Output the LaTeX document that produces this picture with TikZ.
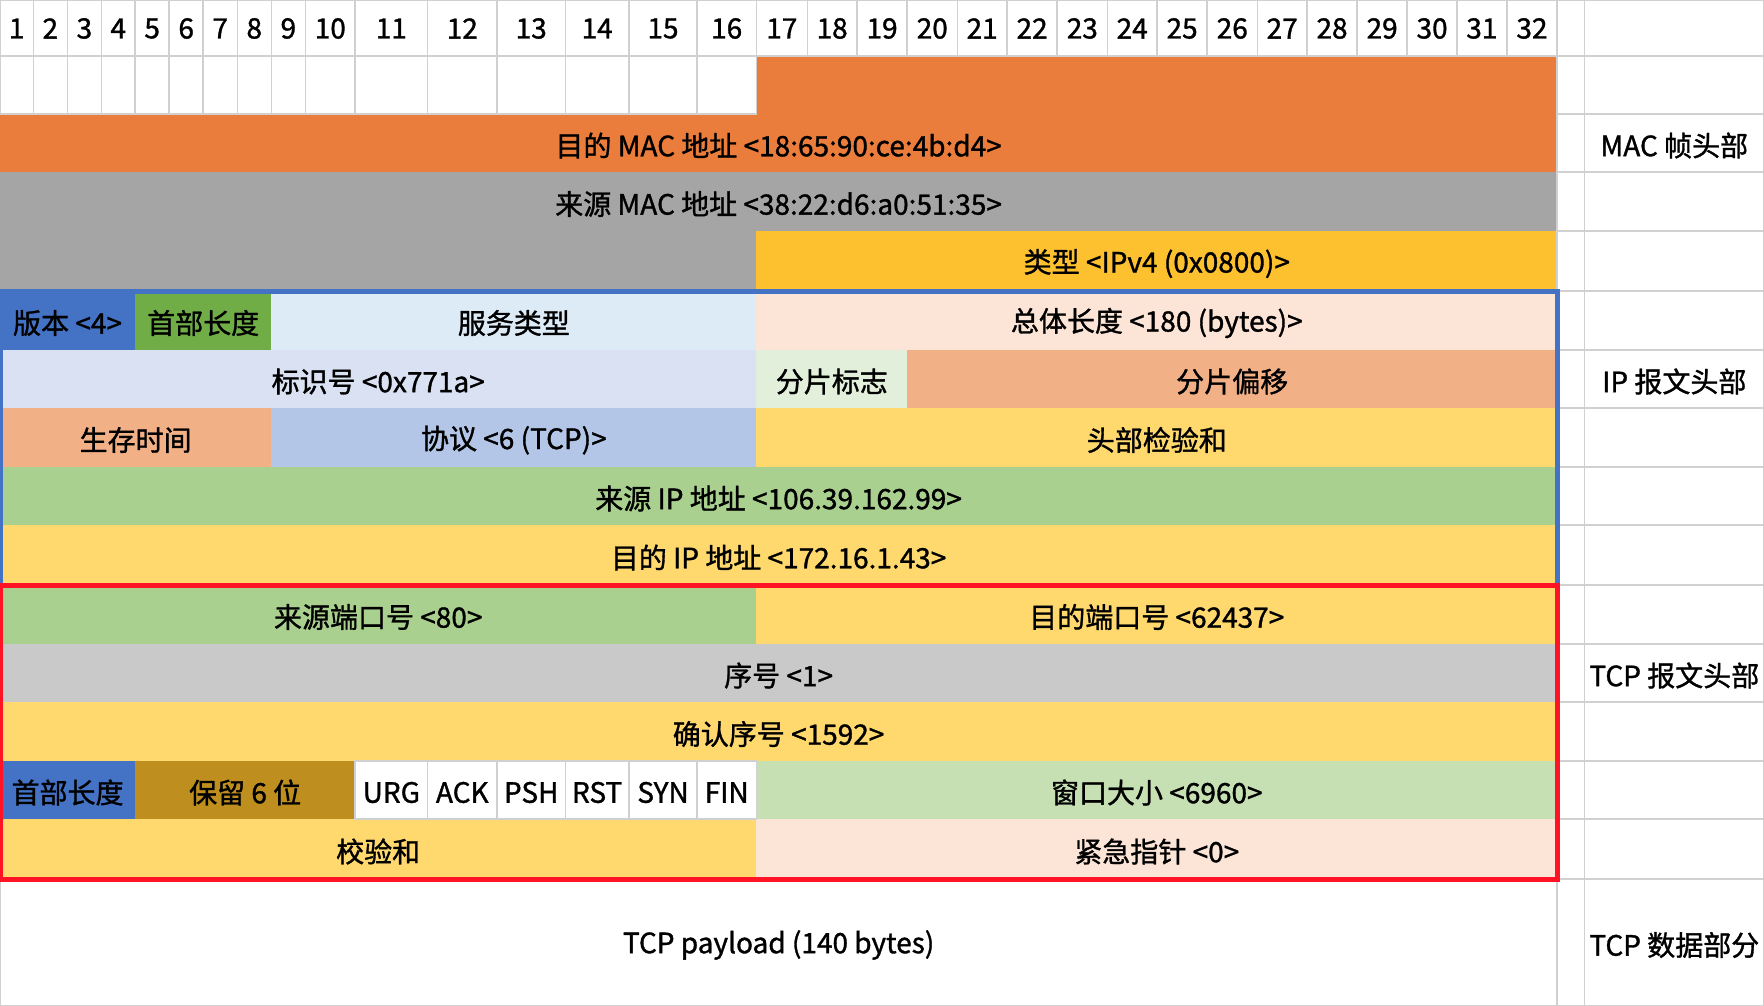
\documentclass[tikz,border=0pt]{standalone}
\usepackage{fontspec}
\setmainfont{Noto Sans CJK SC}[FakeBold=1.2]
\definecolor{macorange}{HTML}{EB7D3C}
\definecolor{macgray}{HTML}{A5A5A5}
\definecolor{typegold}{HTML}{FDC02F}
\definecolor{verblue}{HTML}{4472C4}
\definecolor{hlgreen}{HTML}{70AD47}
\definecolor{tosblue}{HTML}{DDEBF7}
\definecolor{peach}{HTML}{FCE4D6}
\definecolor{idblue}{HTML}{D9E1F2}
\definecolor{flaggreen}{HTML}{E2EFDA}
\definecolor{salmon}{HTML}{F2B087}
\definecolor{protoblue}{HTML}{B4C6E7}
\definecolor{ylw}{HTML}{FFD96E}
\definecolor{grn}{HTML}{A9D08E}
\definecolor{seqgray}{HTML}{C9C9C9}
\definecolor{resgold}{HTML}{BE8E1E}
\definecolor{wingreen}{HTML}{C6E0B4}
\definecolor{tcpred}{HTML}{FF1325}
\definecolor{gridgray}{HTML}{D0D0D0}
\def\cx{{0,33.3,67.4,101.4,135.1,169.2,203.2,237.3,271.3,305.4,355.2,427.5,497.1,565.3,629,697,756.4,807.3,857,907.2,957.3,1007,1057.2,1107.4,1157,1207.2,1257.3,1307,1357.1,1407.2,1457,1506.7,1557.2,1584.6,1764}}
\def\ry{{0,56,114,172,231,291,350,408,467,525,585,644,702,761,819,879,1006}}
\newcommand\pktcell[7]{% style, name, col from, col to, row, colour, text
  \pgfmathsetmacro\pkXa{\cx[#3-1]}%
  \pgfmathsetmacro\pkXb{\cx[#4]}%
  \pgfmathsetmacro\pkYa{\ry[#5]}%
  \pgfmathsetmacro\pkYb{\ry[#5+1]}%
  \pgfmathsetmacro\pkW{\pkXb-\pkXa}%
  \pgfmathsetmacro\pkH{\pkYb-\pkYa}%
  \node[#1, fill=#6, minimum width=\pkW pt, minimum height=\pkH pt,
        label={[fieldtext]center:#7}] (#2) at ({(\pkXa+\pkXb)/2},{(\pkYa+\pkYb)/2}) {};%
}
\begin{document}
\begin{tikzpicture}[x=1pt,y=-1pt,
  fieldbox/.style={inner sep=0pt, outer sep=0pt},
  fieldtext/.style={inner sep=0pt, outer sep=0pt, font=\fontsize{28}{30}\selectfont, text=black, yshift=-2.5pt},
  gridbox/.style={fieldbox, draw=gridgray, line width=1.6pt},
  ipframe/.style={draw=verblue, line width=5pt},
  tcpframe/.style={draw=tcpred, line width=5pt}]
\useasboundingbox (0,0) rectangle (1764,1006);
% MAC header
\pktcell{fieldbox}{r1o}{17}{32}{1}{macorange}{}
\pktcell{fieldbox}{dmac}{1}{32}{2}{macorange}{目的 MAC 地址 <18:65:90:ce:4b:d4>}
\pktcell{fieldbox}{smac}{1}{32}{3}{macgray}{来源 MAC 地址 <38:22:d6:a0:51:35>}
\pktcell{fieldbox}{smacb}{1}{16}{4}{macgray}{}
\pktcell{fieldbox}{etype}{17}{32}{4}{typegold}{类型 <IPv4 (0x0800)>}
% IP header
\pktcell{fieldbox}{ver}{1}{4}{5}{verblue}{版本 <4>}
\pktcell{fieldbox}{ihl}{5}{8}{5}{hlgreen}{首部长度}
\pktcell{fieldbox}{tos}{9}{16}{5}{tosblue}{服务类型}
\pktcell{fieldbox}{tlen}{17}{32}{5}{peach}{总体长度 <180 (bytes)>}
\pktcell{fieldbox}{ident}{1}{16}{6}{idblue}{标识号 <0x771a>}
\pktcell{fieldbox}{flags}{17}{19}{6}{flaggreen}{分片标志}
\pktcell{fieldbox}{frag}{20}{32}{6}{salmon}{分片偏移}
\pktcell{fieldbox}{ttl}{1}{8}{7}{salmon}{生存时间}
\pktcell{fieldbox}{proto}{9}{16}{7}{protoblue}{协议 <6 (TCP)>}
\pktcell{fieldbox}{hcs}{17}{32}{7}{ylw}{头部检验和}
\pktcell{fieldbox}{sip}{1}{32}{8}{grn}{来源 IP 地址 <106.39.162.99>}
\pktcell{fieldbox}{dip}{1}{32}{9}{ylw}{目的 IP 地址 <172.16.1.43>}
% TCP header
\pktcell{fieldbox}{sport}{1}{16}{10}{grn}{来源端口号 <80>}
\pktcell{fieldbox}{dport}{17}{32}{10}{ylw}{目的端口号 <62437>}
\pktcell{fieldbox}{seq}{1}{32}{11}{seqgray}{序号 <1>}
\pktcell{fieldbox}{ack}{1}{32}{12}{ylw}{确认序号 <1592>}
\pktcell{fieldbox}{thl}{1}{4}{13}{verblue}{首部长度}
\pktcell{fieldbox}{rsv}{5}{10}{13}{resgold}{保留 6 位}
\pktcell{fieldbox}{win}{17}{32}{13}{wingreen}{窗口大小 <6960>}
\pktcell{fieldbox}{tcs}{1}{16}{14}{ylw}{校验和}
\pktcell{fieldbox}{urgp}{17}{32}{14}{peach}{紧急指针 <0>}
% white grid cells
\begin{scope}[fieldtext/.append style={yshift=2pt}]
\foreach \i in {1,...,32} {\pktcell{gridbox}{h\i}{\i}{\i}{0}{white}{\i}}
\end{scope}
\pktcell{gridbox}{h33}{33}{33}{0}{white}{}
\pktcell{gridbox}{h34}{34}{34}{0}{white}{}
\foreach \i in {1,...,16} {\pktcell{gridbox}{e\i}{\i}{\i}{1}{white}{}}
\foreach \r in {1,...,15} {\pktcell{gridbox}{n\r}{33}{33}{\r}{white}{}}
\foreach \r in {1,3,4,5,7,8,9,10,12,13,14} {\pktcell{gridbox}{l\r}{34}{34}{\r}{white}{}}
\pktcell{gridbox}{lmac}{34}{34}{2}{white}{MAC 帧头部}
\pktcell{gridbox}{lip}{34}{34}{6}{white}{IP 报文头部}
\pktcell{gridbox}{ltcp}{34}{34}{11}{white}{TCP 报文头部}
\pktcell{gridbox}{ldata}{34}{34}{15}{white}{TCP 数据部分}
\pktcell{gridbox}{furg}{11}{11}{13}{white}{URG}
\pktcell{gridbox}{fack}{12}{12}{13}{white}{ACK}
\pktcell{gridbox}{fpsh}{13}{13}{13}{white}{PSH}
\pktcell{gridbox}{frst}{14}{14}{13}{white}{RST}
\pktcell{gridbox}{fsyn}{15}{15}{13}{white}{SYN}
\pktcell{gridbox}{ffin}{16}{16}{13}{white}{FIN}
\pktcell{gridbox}{payload}{1}{32}{15}{white}{TCP payload (140 bytes)}
% frames
\draw[ipframe] (ver.north west) rectangle (dip.south east);
\draw[tcpframe] (sport.north west) rectangle (urgp.south east);
\end{tikzpicture}
\end{document}
